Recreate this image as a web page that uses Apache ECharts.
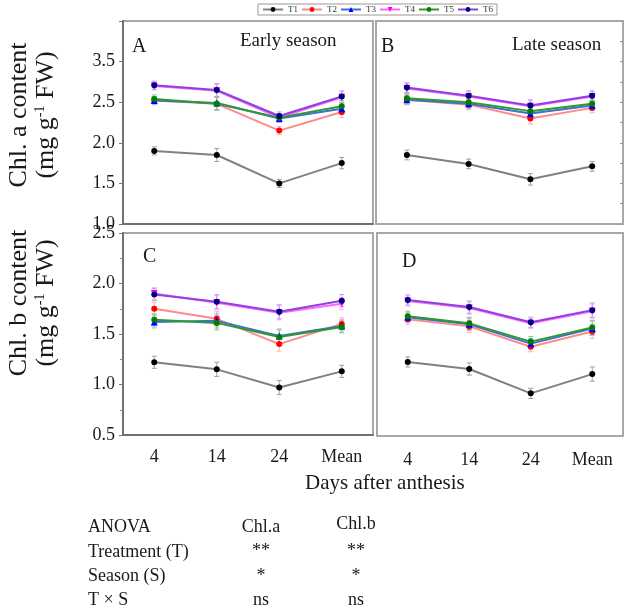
<!DOCTYPE html>
<html><head><meta charset="utf-8">
<script src="https://cdn.jsdelivr.net/npm/echarts@6/dist/echarts.min.js"></script>
<style>html,body{margin:0;padding:0;background:#fff}#c{width:629px;height:616px}</style>
</head><body><div id="c"></div>
<script>
// ---- data ----
const days = ['4', '14', '24', 'Mean'];
const treatments = ['T1', 'T2', 'T3', 'T4', 'T5', 'T6'];
const chlaTickValues = [1.0, 1.5, 2.0, 2.5, 3.0];
const chlaTickLabels = ['1.0', '1.5', '2.0', '2.5', '3.5'];
const chlbTickValues = [0.5, 1.0, 1.5, 2.0, 2.5];
const chlbTickLabels = ['0.5', '1.0', '1.5', '2.0', '2.5'];

// Panel A: Chl. a, early season
const A_T1 = [1.90, 1.85, 1.50, 1.75];
const A_T2 = [2.52, 2.48, 2.15, 2.38];
const A_T3 = [2.52, 2.49, 2.30, 2.42];
const A_T4 = [2.70, 2.64, 2.31, 2.56];
const A_T5 = [2.54, 2.48, 2.31, 2.45];
const A_T6 = [2.71, 2.65, 2.33, 2.57];
// Panel B: Chl. a, late season
const B_T1 = [1.85, 1.74, 1.55, 1.71];
const B_T2 = [2.53, 2.47, 2.30, 2.43];
const B_T3 = [2.53, 2.48, 2.36, 2.46];
const B_T4 = [2.67, 2.57, 2.45, 2.57];
const B_T5 = [2.55, 2.50, 2.39, 2.48];
const B_T6 = [2.68, 2.58, 2.46, 2.58];
// Panel C: Chl. b, early season
const C_T1 = [1.22, 1.15, 0.97, 1.13];
const C_T2 = [1.75, 1.65, 1.40, 1.60];
const C_T3 = [1.62, 1.63, 1.48, 1.58];
const C_T4 = [1.90, 1.81, 1.71, 1.80];
const C_T5 = [1.64, 1.61, 1.47, 1.57];
const C_T6 = [1.89, 1.82, 1.72, 1.83];
// Panel D: Chl. b, late season
const D_T1 = [1.23, 1.16, 0.92, 1.11];
const D_T2 = [1.65, 1.58, 1.38, 1.53];
const D_T3 = [1.67, 1.60, 1.41, 1.56];
const D_T4 = [1.83, 1.76, 1.61, 1.73];
const D_T5 = [1.68, 1.61, 1.43, 1.57];
const D_T6 = [1.84, 1.77, 1.62, 1.74];
// error bar half-widths (estimated)
const A_err = [0.05, 0.08, 0.05, 0.07];
const B_err = [0.06, 0.06, 0.07, 0.06];
const C_err = [0.06, 0.07, 0.07, 0.06];
const D_err = [0.05, 0.06, 0.05, 0.07];

const panels = [
  {id: 'A', data: [A_T1, A_T2, A_T3, A_T4, A_T5, A_T6], err: A_err},
  {id: 'B', data: [B_T1, B_T2, B_T3, B_T4, B_T5, B_T6], err: B_err},
  {id: 'C', data: [C_T1, C_T2, C_T3, C_T4, C_T5, C_T6], err: C_err},
  {id: 'D', data: [D_T1, D_T2, D_T3, D_T4, D_T5, D_T6], err: D_err}
];

const lineColors = ['#808080', '#ff8a8a', '#3f6fd0', '#ff66ff', '#2e9a2e', '#9040e0'];
const markColors = ['#000000', '#ff0000', '#0000ff', '#ff00ff', '#008000', '#000080'];
const errColors = ['#a0a0a0', '#ffb0b0', '#9fb5ee', '#ffaaff', '#90c890', '#c0a0ee'];
const symbols = ['circle', 'circle', 'triangle', 'triangle', 'circle', 'circle'];
const symRot = [0, 0, 0, 180, 0, 0];

const serif = 'Liberation Serif, Times New Roman, serif';
const chart = echarts.init(document.getElementById('c'));

const grids = [
  {left: 123, top: 21, width: 250, height: 203},
  {left: 376, top: 21, width: 247, height: 203},
  {left: 123, top: 233, width: 250, height: 202},
  {left: 377, top: 233, width: 246, height: 203}
].map(g => Object.assign(g, {show: true, borderColor: '#a8a8a8', borderWidth: 2, backgroundColor: '#fff'}));

function lab(vals, labs) {
  return v => { const i = vals.findIndex(t => Math.abs(t - v) < 1e-6); return i >= 0 ? labs[i] : ''; };
}

const xAxes = [0, 1, 2, 3].map(i => ({
  type: 'category', gridIndex: i, data: days, boundaryGap: true,
  axisLine: {lineStyle: {color: i === 0 || i === 2 ? '#707070' : '#a8a8a8', width: 2}},
  axisTick: {alignWithLabel: true, length: 4, lineStyle: {color: '#777'}},
  axisLabel: {show: i >= 2, fontFamily: serif, fontSize: 18, color: '#1a1a1a', margin: i === 3 ? 15 : 13}
}));

const yAxes = [
  {type: 'value', gridIndex: 0, min: 1.0, max: 3.5, interval: 0.5,
   axisLine: {show: true, lineStyle: {color: '#707070', width: 2}},
   axisTick: {show: true, length: 4, lineStyle: {color: '#777'}},
   splitLine: {show: false},
   axisLabel: {fontFamily: serif, fontSize: 18, color: '#1a1a1a', margin: 8, formatter: lab(chlaTickValues, chlaTickLabels)}},
  {type: 'value', gridIndex: 1, min: 1.0, max: 3.5, interval: 0.25, position: 'right',
   axisLine: {show: false}, axisTick: {show: true, inside: true, length: 3, lineStyle: {color: '#999'}},
   splitLine: {show: false}, axisLabel: {show: false}},
  {type: 'value', gridIndex: 2, min: 0.5, max: 2.5, interval: 0.5,
   axisLine: {show: true, lineStyle: {color: '#707070', width: 2}},
   axisTick: {show: true, length: 4, lineStyle: {color: '#777'}},
   minorTick: {show: true, splitNumber: 2, length: 3, lineStyle: {color: '#888'}},
   splitLine: {show: false},
   axisLabel: {fontFamily: serif, fontSize: 18, color: '#1a1a1a', margin: 8, formatter: lab(chlbTickValues, chlbTickLabels)}},
  {type: 'value', gridIndex: 3, min: 0.5, max: 2.5, interval: 0.5, position: 'right',
   axisLine: {show: false}, axisTick: {show: false}, splitLine: {show: false}, axisLabel: {show: false}}
];

const series = [];
panels.forEach((p, pi) => {
  // error bars
  const errData = [];
  p.data.forEach((arr, ti) => arr.forEach((v, ci) => errData.push([ci, v - p.err[ci], v + p.err[ci], ti])));
  series.push({
    type: 'custom', xAxisIndex: pi, yAxisIndex: pi, silent: true, z: 1,
    data: errData,
    encode: {x: 0, y: [1, 2]},
    renderItem: (params, api) => {
      const lo = api.coord([api.value(0), api.value(1)]);
      const hi = api.coord([api.value(0), api.value(2)]);
      const c = errColors[api.value(3)];
      const w = 2.5;
      return {type: 'group', children: [
        {type: 'line', shape: {x1: lo[0], y1: lo[1], x2: hi[0], y2: hi[1]}, style: {stroke: c, lineWidth: 1}},
        {type: 'line', shape: {x1: lo[0] - w, y1: lo[1], x2: lo[0] + w, y2: lo[1]}, style: {stroke: c, lineWidth: 1}},
        {type: 'line', shape: {x1: hi[0] - w, y1: hi[1], x2: hi[0] + w, y2: hi[1]}, style: {stroke: c, lineWidth: 1}}
      ]};
    }
  });
  p.data.forEach((arr, ti) => {
    series.push({
      type: 'line', name: treatments[ti], xAxisIndex: pi, yAxisIndex: pi, data: arr,
      symbol: symbols[ti], symbolRotate: symRot[ti], symbolSize: ti === 2 || ti === 3 ? 7 : 6,
      lineStyle: {color: lineColors[ti], width: 2},
      itemStyle: {color: markColors[ti]},
      emphasis: {disabled: true}, animation: false, z: 2 + ti
    });
  });
});

function txt(x, y, text, size, opts) {
  return Object.assign({type: 'text', x: x, y: y, style: Object.assign({
    text: text, fontFamily: serif, fontSize: size, fill: '#1a1a1a',
    textAlign: 'left', textVerticalAlign: 'middle', align: 'left', verticalAlign: 'middle'
  }, (opts && opts.style) || {})}, (opts && opts.el) || {});
}
function ctr(x, y, text, size) {
  return txt(x, y, text, size, {style: {textAlign: 'center', align: 'center'}});
}
const supRich = {sup: {fontFamily: serif, fontSize: 14, verticalAlign: 'top', fill: '#1a1a1a'}};
function vtitle(x, y, text, size, rich) {
  return {type: 'text', x: x, y: y, rotation: Math.PI / 2, style: {
    text: text, fontFamily: serif, fontSize: size, fill: '#1a1a1a', rich: rich || {},
    textAlign: 'center', textVerticalAlign: 'middle', align: 'center', verticalAlign: 'middle'}};
}

const graphic = [
  txt(132, 47, 'A', 20), txt(240, 41, 'Early season', 19),
  txt(381, 47, 'B', 20), txt(512, 45, 'Late season', 19),
  txt(143, 257, 'C', 20), txt(402, 262, 'D', 20),
  vtitle(19, 115, 'Chl. a content', 26),
  vtitle(46, 115, '(mg g{sup|-1} FW)', 26, supRich),
  vtitle(19, 303, 'Chl. b content', 26),
  vtitle(46, 303, '(mg g{sup|-1} FW)', 26, supRich),
  txt(305, 483, 'Days after anthesis', 21),
  txt(88, 527, 'ANOVA', 18), ctr(261, 527, 'Chl.a', 18), ctr(356, 524, 'Chl.b', 18),
  txt(88, 552, 'Treatment (T)', 18), ctr(261, 551, '**', 18), ctr(356, 551, '**', 18),
  txt(88, 576, 'Season (S)', 18), ctr(261, 576, '*', 18), ctr(356, 576, '*', 18),
  txt(88, 600, 'T × S', 18), ctr(261, 600, 'ns', 18), ctr(356, 600, 'ns', 18)
];

chart.setOption({
  animation: false,
  backgroundColor: '#fff',
  legend: {
    data: treatments, left: 258, top: 4, orient: 'horizontal',
    itemWidth: 20, itemHeight: 6, itemGap: 3, padding: [1, 4],
    borderColor: '#999', borderWidth: 1,
    textStyle: {fontFamily: serif, fontSize: 9, color: '#333'}
  },
  grid: grids, xAxis: xAxes, yAxis: yAxes, series: series, graphic: graphic
});
</script></body></html>
